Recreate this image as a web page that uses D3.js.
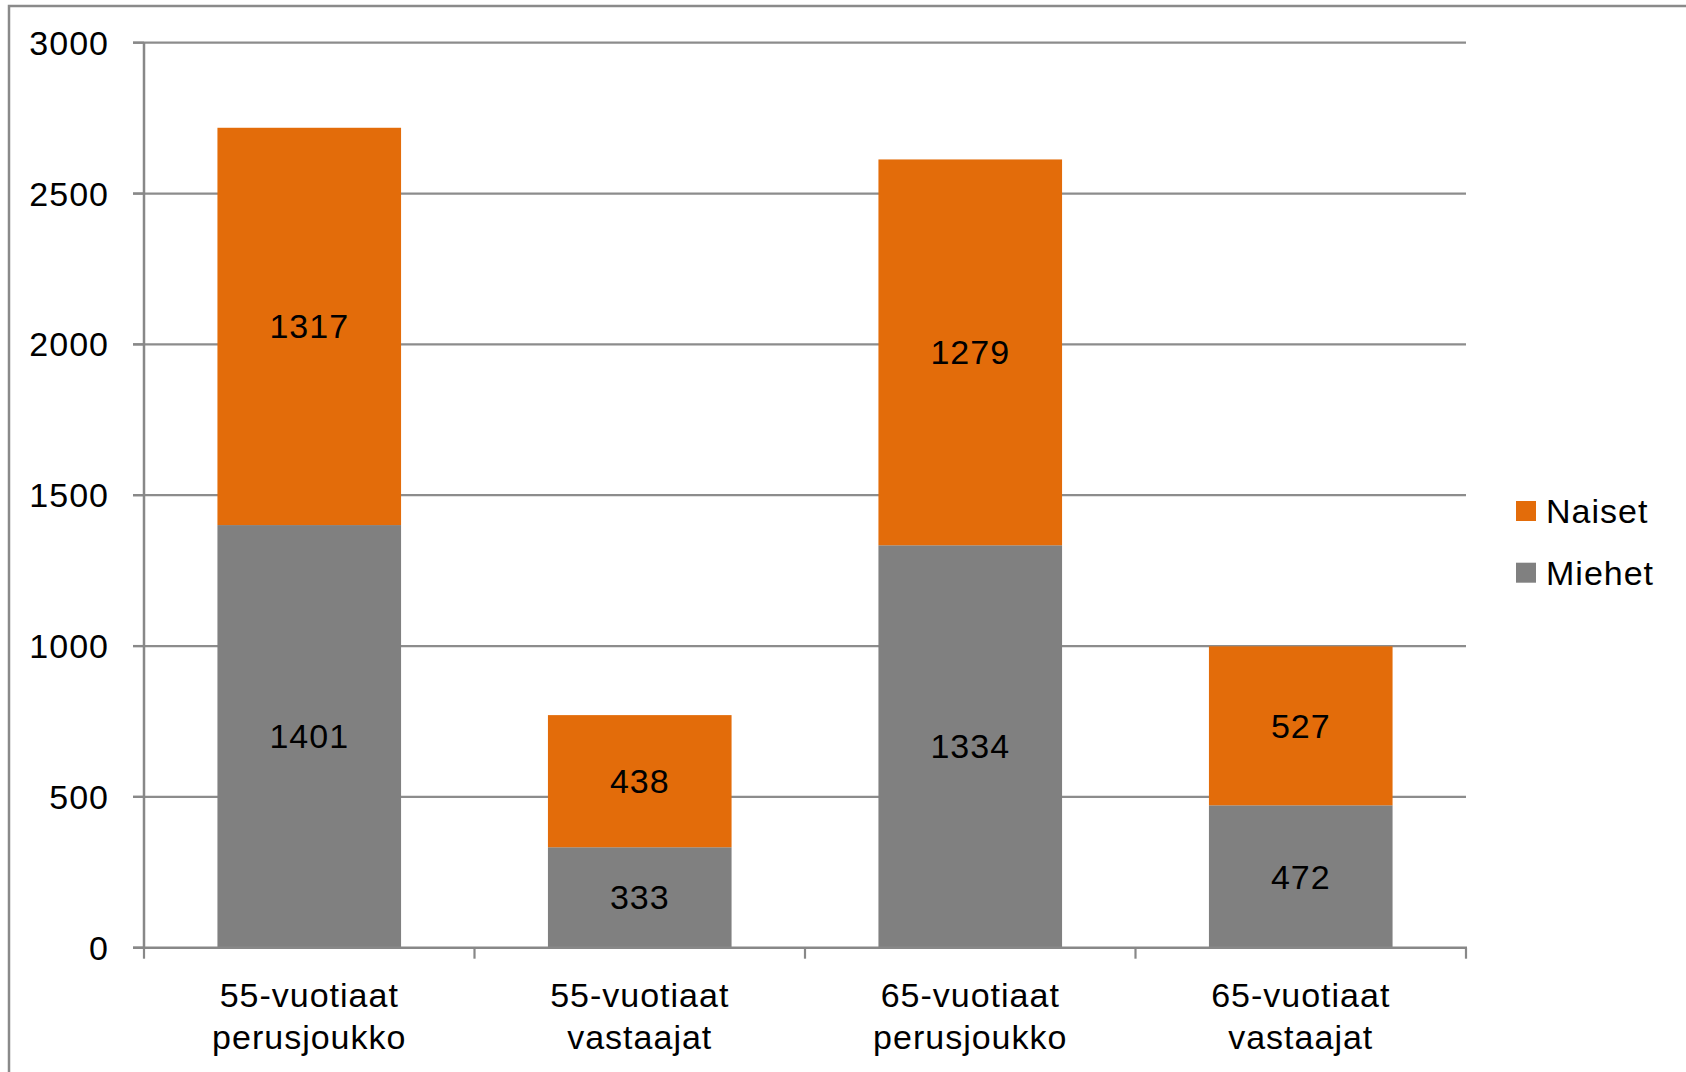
<!DOCTYPE html>
<html><head><meta charset="utf-8">
<script src="https://cdn.jsdelivr.net/npm/d3@7"></script>
<style>
html,body{margin:0;padding:0;background:#fff;}
svg text{font-family:"Liberation Sans",Arial,sans-serif;fill:#000;}
</style></head>
<body>
<svg id="chart" width="1686" height="1072"></svg>
<script>
const categories = [["55-vuotiaat","perusjoukko"],["55-vuotiaat","vastaajat"],["65-vuotiaat","perusjoukko"],["65-vuotiaat","vastaajat"]];
const categoryKeys = ["55p","55v","65p","65v"];
const miehet = [1401, 333, 1334, 472];
const naiset = [1317, 438, 1279, 527];
const seriesNames = ["Miehet","Naiset"];
const yTicks = [0,500,1000,1500,2000,2500,3000];
const colors = {Miehet:"#808080", Naiset:"#E36C0A"};

(function(){
const svg = d3.select("#chart");
const pLeft = 144, pRight = 1466, pTop = 42.7, pBottom = 947.7;

svg.append("rect").attr("x",9).attr("y",6).attr("width",1720).attr("height",1100)
  .attr("fill","none").attr("stroke","#8a8a8a").attr("stroke-width",2.5);

const x = d3.scaleBand().domain(categoryKeys).range([pLeft,pRight]).paddingInner(0.4444).paddingOuter(0.2222);
const y = d3.scaleLinear().domain([0,3000]).range([pBottom,pTop]);

svg.append("g").selectAll("line").data(yTicks.filter(d=>d>0)).join("line")
  .attr("x1",pLeft-11).attr("x2",pRight).attr("y1",d=>y(d)).attr("y2",d=>y(d))
  .attr("stroke","#8c8c8c").attr("stroke-width",2.2);

const rows = categoryKeys.map((k,i)=>({key:k, Miehet:miehet[i], Naiset:naiset[i]}));
const stack = d3.stack().keys(seriesNames)(rows);

const g = svg.append("g");
stack.forEach(layer=>{
  g.selectAll(null).data(layer).join("rect")
    .attr("x",d=>x(d.data.key)).attr("width",x.bandwidth())
    .attr("y",d=>y(d[1])).attr("height",d=>y(d[0])-y(d[1]))
    .attr("fill",colors[layer.key]);
});
stack.forEach(layer=>{
  g.selectAll(null).data(layer).join("text")
    .attr("x",d=>x(d.data.key)+x.bandwidth()/2).attr("y",d=>(y(d[0])+y(d[1]))/2)
    .attr("text-anchor","middle").attr("dominant-baseline","central")
    .attr("font-size",34).attr("letter-spacing",1)
    .text(d=>d[1]-d[0]);
});

const yAxis = svg.append("g");
yAxis.append("line").attr("x1",pLeft).attr("x2",pLeft).attr("y1",pTop).attr("y2",pBottom+1)
  .attr("stroke","#888").attr("stroke-width",2.5);
yAxis.selectAll("line.t").data(yTicks).join("line").attr("class","t")
  .attr("x1",pLeft-11).attr("x2",pLeft).attr("y1",d=>y(d)).attr("y2",d=>y(d))
  .attr("stroke","#888").attr("stroke-width",2.2);
yAxis.selectAll("text").data(yTicks).join("text")
  .attr("x",109).attr("y",d=>y(d)).attr("text-anchor","end").attr("dominant-baseline","central")
  .attr("font-size",34).attr("letter-spacing",1).text(d=>d);

const xAxis = svg.append("g");
xAxis.append("line").attr("x1",pLeft-11).attr("x2",pRight+1).attr("y1",pBottom).attr("y2",pBottom)
  .attr("stroke","#888").attr("stroke-width",2.5);
const bounds = [pLeft].concat(categoryKeys.map(k=>x(k)+x.bandwidth()+x.step()*x.paddingInner()/2));
xAxis.selectAll("line.t").data(bounds).join("line").attr("class","t")
  .attr("x1",d=>d).attr("x2",d=>d).attr("y1",pBottom).attr("y2",pBottom+11)
  .attr("stroke","#888").attr("stroke-width",2.2);
const labels = xAxis.selectAll("text").data(categoryKeys).join("text")
  .attr("text-anchor","middle").attr("font-size",34).attr("letter-spacing",1);
labels.each(function(k,i){
  const t = d3.select(this);
  categories[i].forEach((line,j)=>{
    t.append("tspan").attr("x",x(k)+x.bandwidth()/2).attr("y",1007+j*42).text(line);
  });
});

const legend = svg.append("g");
const legendItems = ["Naiset","Miehet"];
legendItems.forEach((name,i)=>{
  const yy = 501 + i*61.7;
  legend.append("rect").attr("x",1516).attr("y",yy).attr("width",20).attr("height",20).attr("fill",colors[name]);
  legend.append("text").attr("x",1546).attr("y",yy+10).attr("dominant-baseline","central")
    .attr("font-size",34).attr("letter-spacing",1).text(name);
});
})();
</script>
</body></html>
